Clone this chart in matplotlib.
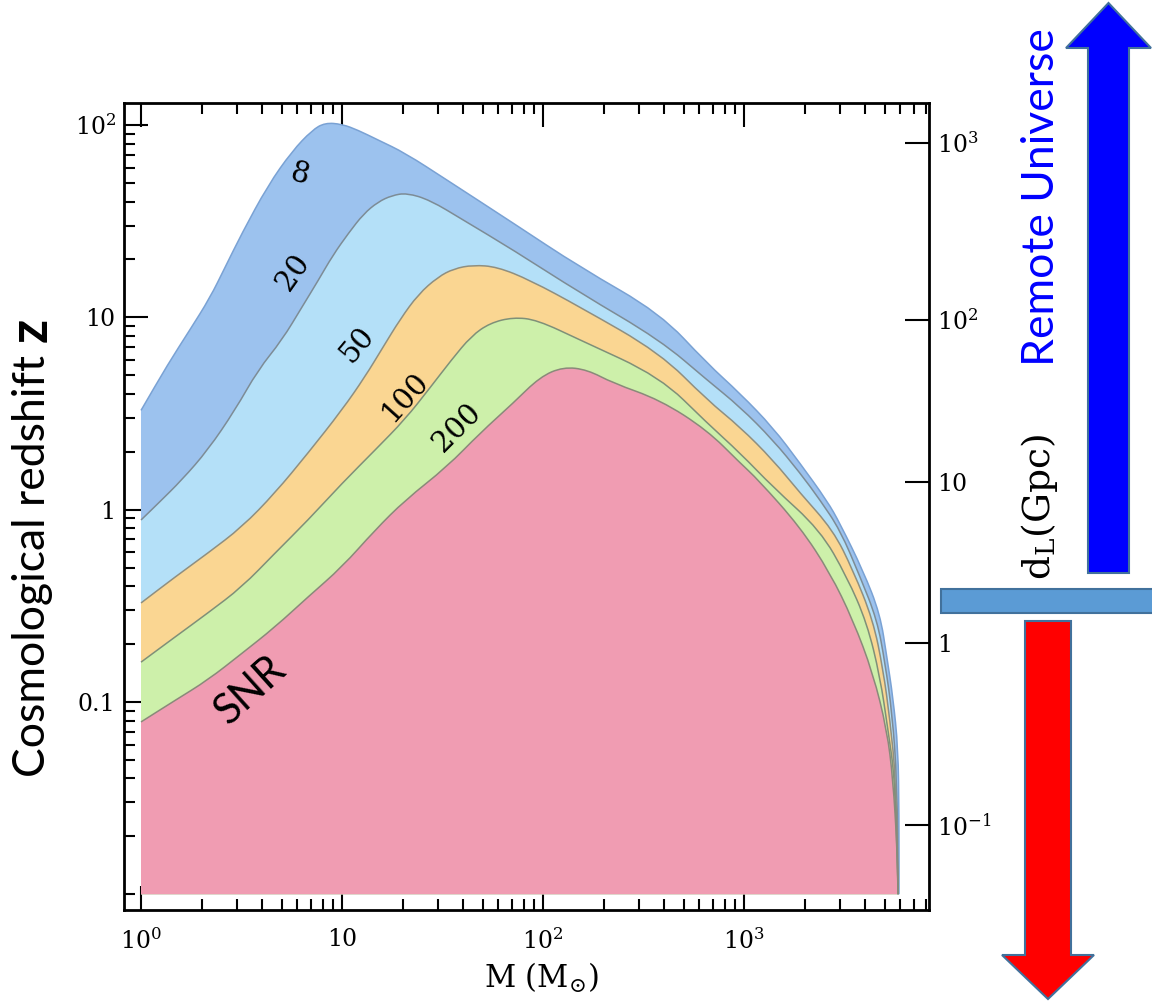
import matplotlib
matplotlib.use('Agg')
import matplotlib.pyplot as plt
import numpy as np
from matplotlib.patches import Polygon, Rectangle, PathPatch
from matplotlib.path import Path
from matplotlib.ticker import FixedLocator, NullLocator, NullFormatter

plt.rcParams['font.family'] = ['DejaVu Serif']
plt.rcParams['mathtext.fontset'] = 'dejavuserif'

# SNR contour boundaries: black hole mass M (M_sun) vs redshift z
m_snr8 = [1.0, 1.36, 1.75, 2.2, 2.62, 3.18, 4.28, 5.64, 7.1, 8.23, 10, 12, 15.1, 20.6, 33.3, 71, 153,
          382, 655, 955, 1393, 1900, 2590, 3005, 3910, 4750, 5140, 5510, 5840, 5900, 5900]
z_snr8 = [3.28, 5.7, 8.6, 12.6, 18.2, 27.4, 48.5, 73, 94, 102.7, 101, 94, 83.6, 71.5, 51.7, 30.9, 18.2,
          10.5, 5.76, 4.02, 2.67, 1.74, 1.11, 0.845, 0.481, 0.287, 0.170, 0.105, 0.0575, 0.0261, 0.01]

m_snr20 = [1.0, 1.22, 1.60, 2.15, 2.94, 3.82, 5.03, 6.32, 7.6, 9.0, 10.8, 12.8, 15.1, 17.7, 21.0, 27.4, 40,
           71, 153, 382, 655, 955, 1393, 1900, 2390, 3005, 3780, 4590, 5030, 5450, 5770, 5840]
z_snr20 = [0.883, 1.08, 1.43, 2.04, 3.30, 5.32, 7.62, 11.3, 15.5, 21.0, 27.5, 34.5, 39.8, 43.0, 44.3, 40.7, 32.1,
           22.4, 13.4, 7.62, 4.72, 3.42, 2.30, 1.55, 1.12, 0.783, 0.447, 0.267, 0.159, 0.0875, 0.0393, 0.01]

m_snr50 = [1.0, 1.48, 2.15, 3.18, 4.64, 6.78, 10, 13.0, 16.0, 19.5, 24.0, 30.0, 36.0, 44.9, 59.1, 86.2, 153,
           382, 655, 955, 1393, 1900, 2770, 3480, 4380, 4920, 5320, 5700, 5840]
z_snr50 = [0.327, 0.447, 0.594, 0.812, 1.22, 1.97, 3.30, 4.90, 7.0, 9.8, 13.2, 16.2, 17.9, 18.7, 18.3, 15.6, 11.3,
           6.52, 3.72, 2.69, 1.81, 1.22, 0.783, 0.485, 0.267, 0.147, 0.0805, 0.0393, 0.01]

m_snr100 = [1.0, 1.48, 2.15, 3.18, 4.64, 6.78, 10, 14.6, 20.6, 27.4, 35.0, 44.0, 54.5, 71, 93.4, 153,
            382, 655, 955, 1393, 2390, 3250, 4090, 4750, 5200, 5640, 5840]
z_snr100 = [0.161, 0.218, 0.290, 0.396, 0.594, 0.883, 1.37, 2.04, 2.95, 4.3, 6.0, 8.0, 9.34, 10.0, 9.7, 7.62,
            4.90, 2.82, 1.97, 1.31, 0.783, 0.447, 0.257, 0.135, 0.0714, 0.0393, 0.01]

m_snr200 = [1.0, 1.48, 2.15, 3.18, 4.64, 6.78, 10, 14.6, 20.6, 33.3, 48.6, 71, 96.6, 126, 166, 223,
            382, 655, 955, 1175, 1900, 2680, 3480, 4380, 5140, 5510, 5770, 5840]
z_snr200 = [0.0787, 0.102, 0.130, 0.179, 0.245, 0.352, 0.503, 0.783, 1.12, 1.67, 2.50, 3.58, 4.90, 5.52, 5.34, 4.55,
            3.72, 2.59, 1.75, 1.43, 0.812, 0.468, 0.267, 0.141, 0.0714, 0.0393, 0.0176, 0.01]

z_floor = 0.01
levels = ['8', '20', '50', '100', '200']
fill_colors = ['#9cc2ee', '#b4e0f8', '#fad692', '#cdf0aa', '#f09cb2']
line_colors = ['#7aa2d4', '#7d8c96', '#8f8f80', '#7f9078', '#8a8a7a']

# contour label placement (M, z, rotation)
label_m = [6.2, 5.7, 11.9, 20.6, 37.3]
label_z = [55, 17.2, 7.18, 3.85, 2.66]
label_rot = [-15, 55, 50, 48, 45]

# luminosity distance ticks on the right axis, placed at their redshift
dl_tick_z = [0.0229, 0.202, 1.39, 9.68, 80.6]
dl_tick_labels = [r'$10^{-1}$', '1', '10', r'$10^{2}$', r'$10^{3}$']


def smooth_verts(m, z):
    # quadratic b-spline through the read points, built in log space
    # so the curve stays smooth on the log-log axes
    lx, ly = np.log10(m), np.log10(z)
    mx, my = (lx[:-1] + lx[1:]) / 2, (ly[:-1] + ly[1:]) / 2
    verts = [(lx[0], ly[0]), (mx[0], my[0])]
    codes = [Path.LINETO, Path.LINETO]
    for i in range(1, len(lx) - 1):
        verts += [(lx[i], ly[i]), (mx[i], my[i])]
        codes += [Path.CURVE3, Path.CURVE3]
    verts.append((lx[-1], ly[-1]))
    codes.append(Path.LINETO)
    return 10.0 ** np.array(verts), codes


W, H = 1152, 1001
fig = plt.figure(figsize=(W / 100, H / 100), dpi=100)
ax = fig.add_axes([124 / W, 1 - 910 / H, (929 - 124) / W, (910 - 102.7) / H])
ax.set_xscale('log')
ax.set_yscale('log')

curves = [(m_snr8, z_snr8), (m_snr20, z_snr20), (m_snr50, z_snr50),
          (m_snr100, z_snr100), (m_snr200, z_snr200)]
for (m, z), fc, lc in zip(curves, fill_colors, line_colors):
    verts, codes = smooth_verts(m, z)
    fill_v = np.vstack([[m[0], z_floor], verts, [m[-1], z_floor], [m[0], z_floor]])
    fill_c = [Path.MOVETO] + codes + [Path.LINETO, Path.CLOSEPOLY]
    ax.add_patch(PathPatch(Path(fill_v, fill_c), facecolor=fc, edgecolor='none', zorder=2))
    codes[0] = Path.MOVETO
    ax.add_patch(PathPatch(Path(verts, codes), facecolor='none', edgecolor=lc, lw=1.1, zorder=3))

for m, z, txt, rot in zip(label_m, label_z, levels, label_rot):
    ax.text(m, z, txt, rotation=rot, fontsize=21, ha='center', va='center',
            rotation_mode='anchor', zorder=4)
ax.text(3.49, 0.115, 'SNR', rotation=42, family='Lato', fontsize=30,
        ha='center', va='center', rotation_mode='anchor', zorder=4)

ax.set_xlim(0.823, 8320)
ax.set_ylim(0.00828, 130.6)

ax.set_xticks([1, 10, 100, 1000], labels=[r'$10^{0}$', '10', r'$10^{2}$', r'$10^{3}$'])
ax.xaxis.set_minor_locator(FixedLocator([k * 10.0 ** e for e in range(0, 4) for k in range(2, 10)]))
ax.set_yticks([0.1, 1, 10, 100], labels=['0.1', '1', '10', r'$10^{2}$'])
ax.yaxis.set_minor_locator(FixedLocator([k * 10.0 ** e for e in range(-2, 3) for k in range(1, 10)]))
ax.xaxis.set_minor_formatter(NullFormatter())
ax.yaxis.set_minor_formatter(NullFormatter())

ax.tick_params(which='both', direction='in', top=True, right=False, width=1.5, labelsize=17)
ax.tick_params(which='major', length=17)
ax.tick_params(which='minor', length=8)
ax.tick_params(axis='x', pad=13)
ax.tick_params(axis='y', pad=6)
for sp in ax.spines.values():
    sp.set_linewidth(2)

ax2 = ax.twinx()
ax2.set_yscale('log')
ax2.set_ylim(ax.get_ylim())
ax2.set_yticks(dl_tick_z, labels=dl_tick_labels)
ax2.yaxis.set_minor_locator(NullLocator())
ax2.yaxis.set_minor_formatter(NullFormatter())
ax2.tick_params(direction='in', length=17, width=1.5, pad=6, labelsize=17)
for sp in ax2.spines.values():
    sp.set_visible(False)

ax.text(0.519, -0.084, r'M (M$_{\odot}$)', transform=ax.transAxes, fontsize=22,
        ha='center', va='center')

# labels outside the axes
fig.text(33 / W, 1 - 566 / H, 'Cosmological redshift', rotation=90, family='Lato',
         fontsize=32, ha='center', va='center')
fig.text(31 / W, 1 - 330 / H, 'z', rotation=90, family='Lato', fontweight='bold',
         fontsize=38, ha='center', va='center')
fig.text(1042 / W, 1 - 197 / H, 'Remote Universe', rotation=90, family='Lato',
         color='#0000ff', fontsize=32, ha='center', va='center')
fig.text(1040 / W, 1 - 507 / H, r'd$_{\rm L}$(Gpc)', rotation=90, fontsize=27,
         ha='center', va='center')

# arrows drawn in pixel space on an overlay
ov = fig.add_axes([0, 0, 1, 1], zorder=5)
ov.set_xlim(0, W)
ov.set_ylim(H, 0)
ov.axis('off')
ov.patch.set_alpha(0)
edge = '#41719c'
ov.add_patch(Polygon([(1088, 573), (1088, 48), (1066, 48), (1108.5, 3), (1151, 48),
                      (1129, 48), (1129, 573)], closed=True, facecolor='#0000ff',
                     edgecolor=edge, lw=1.5))
ov.add_patch(Polygon([(1025, 621), (1025, 955), (1002, 955), (1048, 999), (1094, 955),
                      (1071, 955), (1071, 621)], closed=True, facecolor='#ff0000',
                     edgecolor=edge, lw=1.5))
ov.add_patch(Rectangle((941, 589), 230, 24, facecolor='#5b9bd5', edgecolor=edge, lw=1.5))

fig.savefig('out.png', dpi=100)
